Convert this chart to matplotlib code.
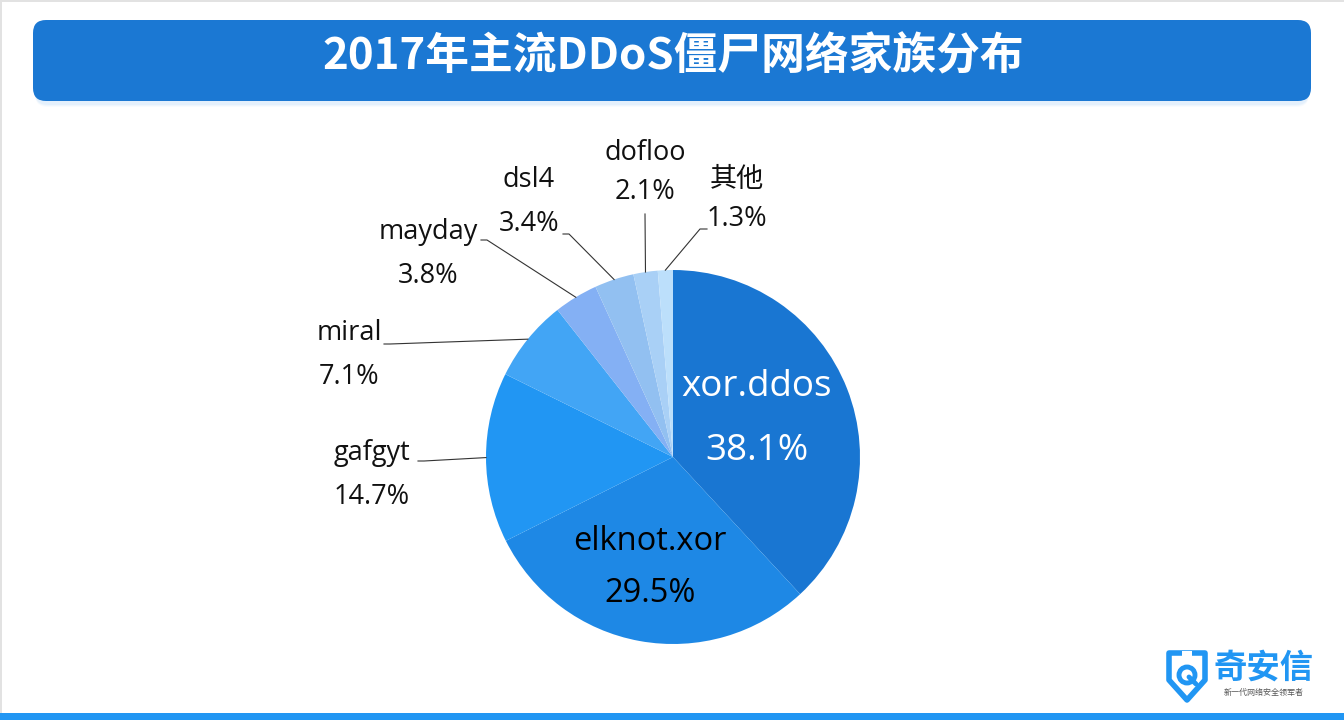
import matplotlib
matplotlib.use("Agg")
import numpy as np
import matplotlib.pyplot as plt
from matplotlib.patches import FancyBboxPatch, Rectangle, Polygon, Circle

plt.rcParams['font.family'] = ['Open Sans', 'Noto Sans CJK SC', 'DejaVu Sans']

# data
families = ["xor.ddos", "elknot.xor", "gafgyt", "miral", "mayday", "dsl4", "dofloo", "其他"]
shares = [38.1, 29.5, 14.7, 7.1, 3.8, 3.4, 2.1, 1.3]
colors = ["#1976d2", "#1e88e5", "#2196f3", "#42a5f5", "#84b0f4", "#92c0f1", "#a9d0f6", "#bcdffb"]
title = "2017年主流DDoS僵尸网络家族分布"

W, H = 1344, 720
fig = plt.figure(figsize=(W / 100, H / 100), dpi=100)

# background layer in pixel coords
bg = fig.add_axes([0, 0, 1, 1])
bg.set_xlim(0, W)
bg.set_ylim(H, 0)
bg.axis("off")
bg.add_patch(Rectangle((0, 0), 1.5, H, color="#e2e2e2", lw=0))
bg.add_patch(Rectangle((0, 0), W, 1.5, color="#e2e2e2", lw=0))
bg.add_patch(Rectangle((0, 713), W, 7, color="#2196f3", lw=0))

# title bar with soft shadow
for i, a in enumerate([0.10, 0.14, 0.20]):
    off = 4 - i
    bg.add_patch(FancyBboxPatch((35, 24 + off), 1274, 79, boxstyle="round,pad=0,rounding_size=13",
                                fc="#bcdcf8", ec="none", alpha=a))
bg.add_patch(FancyBboxPatch((33, 20), 1278, 81, boxstyle="round,pad=0,rounding_size=13",
                            fc="#1b78d3", ec="none"))
bg.text(673, 56, title, color="white", fontsize=31.5, fontweight="bold",
        family=["Noto Sans CJK SC"], ha="center", va="center")

# logo
shield = Polygon([(1169, 653), (1205, 653), (1205, 680), (1187, 700), (1169, 680)],
                 closed=True, fc="none", ec="#2196f3", lw=4, joinstyle="round")
bg.add_patch(shield)
bg.add_patch(Circle((1187, 675), 8, fc="none", ec="#2196f3", lw=3.5))
bg.plot([1189, 1196], [677, 684], color="#2196f3", lw=3.5, solid_capstyle="round")
bg.add_patch(Rectangle((1182, 651), 10, 5, fc="white", ec="none"))
bg.text(1264, 668, "奇安信", color="#2196f3", fontsize=24, fontweight="bold",
        family=["Noto Sans CJK SC"], ha="center", va="center")
bg.text(1264, 693, "新一代网络安全领军者", color="#555555", fontsize=5.8,
        family=["Noto Sans CJK SC"], ha="center", va="center")

# pie axes: data units = pixels, origin at pie centre
cx, cy, R = 673, 457, 187
ax = fig.add_axes([0, 0, 1, 1])
ax.patch.set_alpha(0)

wedges, _ = ax.pie(shares, colors=colors, radius=R, startangle=90, counterclock=False,
                   wedgeprops={"linewidth": 0})
ax.set_xlim(-cx, W - cx)
ax.set_ylim(cy - H, cy)
ax.set_aspect("equal")
ax.axis("off")

pct = [f"{v:.1f}%" for v in shares]

# inside labels
ax.text(84, 70, families[0], color="white", fontsize=26.5, ha="center", va="center")
ax.text(84, 6, pct[0], color="white", fontsize=26.5, ha="center", va="center")
ax.text(-23, -84, families[1], color="black", fontsize=23.5, ha="center", va="center")
ax.text(-23, -137, pct[1], color="black", fontsize=23.5, ha="center", va="center")

# outside labels: (name centre, anchor of leader line)
outside = {
    2: ((-301, 4), (-255, -4)),
    3: ((-324, 124), (-289, 113)),
    4: ((-245, 225), (-192, 217)),
    5: ((-144, 277), (-110, 223)),
    6: ((-28, 304), (-28, 243)),
    7: ((64, 277), (34, 228)),
}
for i, ((tx, ty), (lx, ly)) in outside.items():
    ax.text(tx, ty, families[i], fontsize=19.5, ha="center", va="center", color="#111111")
    ax.text(tx, ty - 44 + (5 if i >= 6 else 0), pct[i], fontsize=19.5, ha="center", va="center",
            color="#111111")
    w = wedges[i]
    mid = np.deg2rad((w.theta1 + w.theta2) / 2)
    ex, ey = R * np.cos(mid), R * np.sin(mid)
    if i == 6:
        ax.plot([lx, ex], [ly, ey], color="#333333", lw=0.8)
    elif i == 7:
        ax.plot([lx, lx - 7, ex], [ly, ly, ey], color="#333333", lw=0.8)
    else:
        ax.plot([lx, lx + 6, ex], [ly, ly, ey], color="#333333", lw=0.8)

fig.savefig("out.png", dpi=100, facecolor="white")
